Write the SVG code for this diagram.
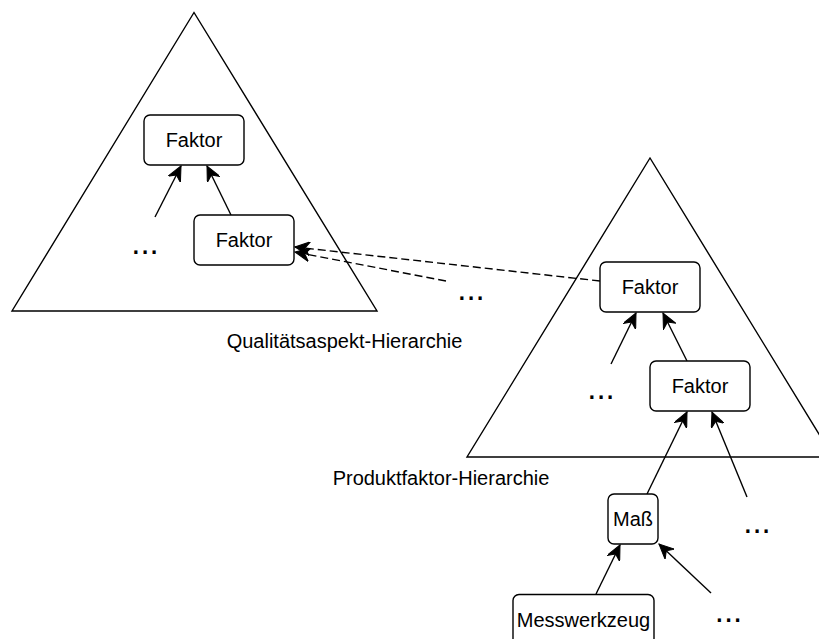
<svg xmlns="http://www.w3.org/2000/svg" width="819" height="639" viewBox="0 0 819 639">
<style>
.tri{fill:none;stroke:#000;stroke-width:1.4}
.box{fill:#fff;stroke:#000;stroke-width:1.4}
.t{font-family:"Liberation Sans",Arial,sans-serif;font-size:20px;fill:#000;text-anchor:middle}
.dots{font-family:"Liberation Sans",Arial,sans-serif;font-size:33px;fill:#000;text-anchor:middle}
.e{fill:none;stroke:#000;stroke-width:1.4;marker-end:url(#arr)}
.d{fill:none;stroke:#000;stroke-width:1.4;stroke-dasharray:8 4;marker-end:url(#arr)}
</style>
<defs>
<marker id="arr" markerUnits="userSpaceOnUse" orient="auto" markerWidth="16" markerHeight="14" refX="15" refY="7" viewBox="0 0 16 14">
<path d="M15,7 L0,0 L5,7 L0,14 Z" fill="#000" stroke="#000" stroke-width="1"/>
</marker>
</defs>
<rect width="819" height="639" fill="#fff"/>
<g id="qualitaet-hierarchie">
<polygon class="tri" points="194,12.5 12,311 377,311"/>
<text class="t" x="344.5" y="348">Qualitätsaspekt-Hierarchie</text>
</g>
<g id="produkt-hierarchie">
<polygon class="tri" points="650,158 467,457 833,457"/>
<text class="t" x="441" y="485">Produktfaktor-Hierarchie</text>
</g>
<g id="connectors">
<line class="e" x1="155" y1="217" x2="181" y2="166"/>
<line class="e" x1="231" y1="215" x2="207" y2="166"/>
<line class="e" x1="611" y1="364" x2="636" y2="313"/>
<line class="e" x1="687" y1="361" x2="663" y2="313"/>
<line class="e" x1="647" y1="494" x2="687" y2="412"/>
<line class="e" x1="747" y1="497" x2="712" y2="412"/>
<line class="e" x1="596" y1="594" x2="620" y2="545"/>
<line class="e" x1="711" y1="593" x2="659" y2="544"/>
<line class="d" x1="600" y1="281" x2="295" y2="247"/>
<line class="d" x1="446" y1="281" x2="295" y2="252"/>
</g>
<g id="q-faktor1">
<rect class="box" x="144" y="115" width="100" height="50" rx="6"/>
<text class="t" x="194" y="147">Faktor</text>
</g>
<g id="q-faktor2">
<rect class="box" x="194" y="215" width="100" height="50" rx="6"/>
<text class="t" x="244" y="247">Faktor</text>
</g>
<g id="q-dots">
<text class="dots" x="145" y="253.5">...</text>
</g>
<g id="mid-dots">
<text class="dots" x="471" y="299.5">...</text>
</g>
<g id="p-faktor1">
<rect class="box" x="600" y="262" width="100" height="50" rx="6"/>
<text class="t" x="650" y="294">Faktor</text>
</g>
<g id="p-faktor2">
<rect class="box" x="650" y="361" width="100" height="50" rx="6"/>
<text class="t" x="700" y="393">Faktor</text>
</g>
<g id="p-dots">
<text class="dots" x="601" y="399">...</text>
</g>
<g id="mass">
<rect class="box" x="608" y="494" width="50" height="50" rx="6"/>
<text class="t" x="633" y="526">Maß</text>
</g>
<g id="mass-dots">
<text class="dots" x="757" y="532.5">...</text>
</g>
<g id="messwerkzeug">
<rect class="box" x="513" y="594.5" width="141" height="50" rx="6"/>
<text class="t" x="583.5" y="626.5">Messwerkzeug</text>
</g>
<g id="mw-dots">
<text class="dots" x="728.5" y="622">...</text>
</g>
</svg>
